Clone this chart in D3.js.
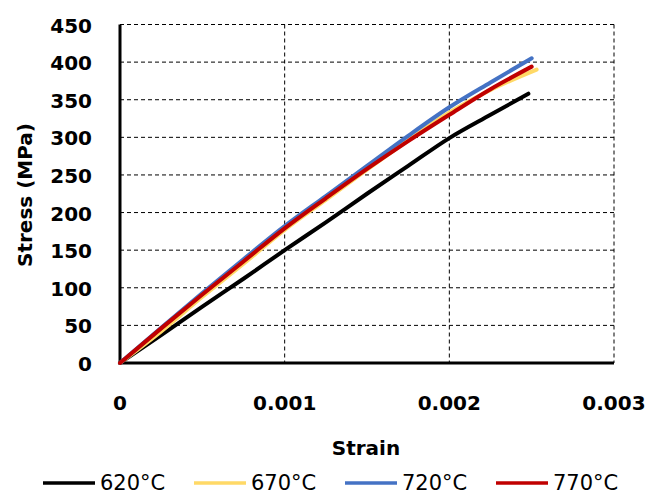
<!DOCTYPE html>
<html>
<head>
<meta charset="utf-8">
<script src="https://cdn.jsdelivr.net/npm/d3@7"></script>
<style>
  body { margin: 0; background: #fff; }
  svg { display: block; font-family: "DejaVu Sans", sans-serif; }
</style>
</head>
<body>
<svg id="graph"></svg>
<script>
// Series
const SERIES = ['620°C', '670°C', '720°C', '770°C'];
const COLORS = ['#000000', '#FFD966', '#4472C4', '#C00000'];

const STRAIN_620 = [0, 0.00025, 0.0005, 0.00075, 0.001, 0.00125, 0.0015, 0.00175, 0.002, 0.00225, 0.00248];
const STRESS_620 = [0, 37, 75, 112, 150, 187, 225, 262, 299, 330, 358];

const STRAIN_670 = [0, 0.00025, 0.0005, 0.00075, 0.001, 0.00125, 0.0015, 0.00175, 0.002, 0.00225, 0.00253];
const STRESS_670 = [0, 42, 88, 132, 177, 217, 257, 296, 333, 363, 390];

const STRAIN_720 = [0, 0.00025, 0.0005, 0.00075, 0.001, 0.00125, 0.0015, 0.00175, 0.002, 0.00225, 0.0025];
const STRESS_720 = [0, 47, 93, 138, 182, 222, 262, 302, 340, 373, 405];

const STRAIN_770 = [0, 0.00025, 0.0005, 0.00075, 0.001, 0.00125, 0.0015, 0.00175, 0.002, 0.00225, 0.0025];
const STRESS_770 = [0, 46, 91, 135, 179, 219, 258, 295, 330, 364, 394];

const X_TICKS = [0, 0.001, 0.002, 0.003];
const Y_TICKS = [0, 50, 100, 150, 200, 250, 300, 350, 400, 450];

const DATA = [
  d3.zip(STRAIN_620, STRESS_620),
  d3.zip(STRAIN_670, STRESS_670),
  d3.zip(STRAIN_720, STRESS_720),
  d3.zip(STRAIN_770, STRESS_770)
];

// Layout
const width = 647;
const height = 494;
const plot = {left: 120, right: 614, top: 24.5, bottom: 363};

const x = d3.scaleLinear([0, 0.003], [plot.left, plot.right]);
const y = d3.scaleLinear([0, 450], [plot.bottom, plot.top]);

const graph = d3.select('#graph')
  .attr('width', width)
  .attr('height', height);

// Gridlines
graph.append('g')
  .selectAll('line')
  .data(Y_TICKS.filter(d => d > 0)).enter()
  .append('line')
    .attr('x1', plot.left)
    .attr('x2', plot.right)
    .attr('y1', d => y(d))
    .attr('y2', d => y(d))
    .attr('stroke', '#000')
    .attr('stroke-width', 1)
    .attr('stroke-dasharray', '4,3');

graph.append('g')
  .selectAll('line')
  .data(X_TICKS.filter(d => d > 0)).enter()
  .append('line')
    .attr('x1', d => x(d))
    .attr('x2', d => x(d))
    .attr('y1', plot.top)
    .attr('y2', plot.bottom)
    .attr('stroke', '#000')
    .attr('stroke-width', 1)
    .attr('stroke-dasharray', '4,3');

// Axes lines
graph.append('line')
  .attr('x1', plot.left).attr('x2', plot.left)
  .attr('y1', plot.top).attr('y2', plot.bottom + 1.5)
  .attr('stroke', '#000').attr('stroke-width', 3);
graph.append('line')
  .attr('x1', plot.left - 1.5).attr('x2', plot.right)
  .attr('y1', plot.bottom).attr('y2', plot.bottom)
  .attr('stroke', '#000').attr('stroke-width', 3);

// Tick labels
graph.append('g')
  .selectAll('text')
  .data(Y_TICKS).enter()
  .append('text')
    .text(d => d)
    .attr('x', 92)
    .attr('y', d => y(d) + 8)
    .attr('text-anchor', 'end')
    .attr('font-size', 20)
    .attr('font-weight', 'bold');

graph.append('g')
  .selectAll('text')
  .data(X_TICKS).enter()
  .append('text')
    .text(d => d)
    .attr('x', d => x(d))
    .attr('y', 410)
    .attr('text-anchor', 'middle')
    .attr('font-size', 20)
    .attr('font-weight', 'bold');

// Axis titles
graph.append('text')
  .text('Strain')
  .attr('x', 366)
  .attr('y', 455)
  .attr('text-anchor', 'middle')
  .attr('font-size', 20)
  .attr('font-weight', 'bold');

graph.append('text')
  .text('Stress (MPa)')
  .attr('transform', 'translate(32, 195) rotate(-90)')
  .attr('text-anchor', 'middle')
  .attr('font-size', 20)
  .attr('font-weight', 'bold');

// Lines
const line = d3.line()
  .x(d => x(d[0]))
  .y(d => y(d[1]))
  .curve(d3.curveMonotoneX);

graph.append('g')
  .selectAll('path')
  .data(DATA).enter()
  .append('path')
    .attr('d', line)
    .attr('fill', 'none')
    .attr('stroke', (d, i) => COLORS[i])
    .attr('stroke-width', 4)
    .attr('stroke-linecap', 'round')
    .attr('stroke-linejoin', 'round');

// Legend
const legend = graph.append('g')
  .selectAll('g')
  .data(SERIES).enter()
  .append('g')
    .attr('transform', (d, i) => `translate(${43 + i * 151}, 483)`);

legend.append('line')
  .attr('x1', 0).attr('x2', 52)
  .attr('stroke', (d, i) => COLORS[i])
  .attr('stroke-width', 3.5);

legend.append('text')
  .text(d => d)
  .attr('x', 57)
  .attr('y', 7)
  .attr('font-size', 21);
</script>
</body>
</html>
